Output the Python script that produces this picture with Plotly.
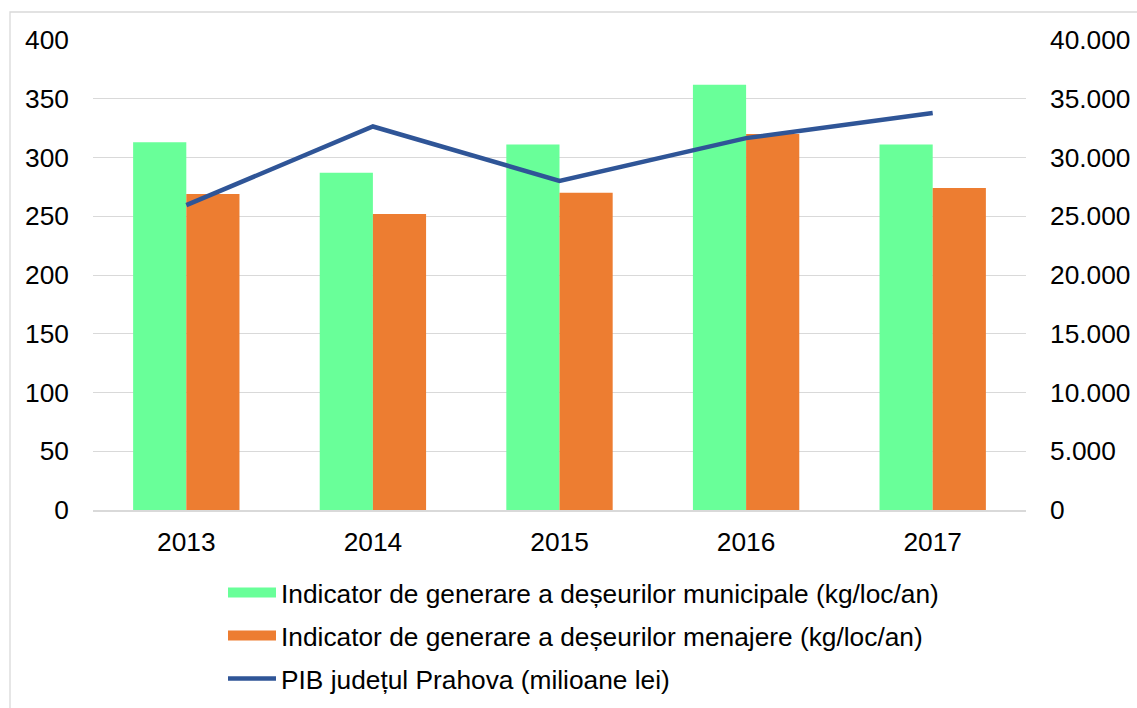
import plotly.graph_objects as go

years = ["2013", "2014", "2015", "2016", "2017"]
municipale = [313, 287, 311, 362, 311]
menajere = [269, 252, 270, 320, 274]
pib = [25950, 32640, 28010, 31650, 33780]

name_mun = "Indicator de generare a deșeurilor municipale (kg/loc/an)"
name_men = "Indicator de generare a deșeurilor menajere (kg/loc/an)"
name_pib = "PIB județul Prahova (milioane lei)"

green = "#69FF99"
orange = "#ED7D31"
blue = "#2F5597"

W, H = 1137, 708
L, R, T, B = 93, 111, 40, 198
pw = W - L - R
ph = H - T - B

def px_x(x):
    return (x - L) / pw

def px_y(y):
    return (H - B - y) / ph

font = dict(family="Liberation Sans, Arial, sans-serif", size=26.3, color="#000000")

fig = go.Figure()
fig.add_trace(go.Bar(x=years, y=municipale, name=name_mun, marker=dict(color=green, line=dict(width=0)),
                     showlegend=False))
fig.add_trace(go.Bar(x=years, y=menajere, name=name_men, marker=dict(color=orange, line=dict(width=0)),
                     showlegend=False))
fig.add_trace(go.Scatter(x=years, y=pib, name=name_pib, mode="lines", yaxis="y2",
                         line=dict(color=blue, width=4.5), showlegend=False))
# legend entries (swatches styled like the original's wide rectangles)
fig.add_trace(go.Scatter(x=[None], y=[None], name=name_mun, mode="lines",
                         line=dict(color=green, width=13), legendgroup="a", hoverinfo="skip"))
fig.add_trace(go.Scatter(x=[None], y=[None], name=name_men, mode="lines",
                         line=dict(color=orange, width=13), legendgroup="b", hoverinfo="skip"))
fig.add_trace(go.Scatter(x=[None], y=[None], name=name_pib, mode="lines", yaxis="y2",
                         line=dict(color=blue, width=4.5), legendgroup="c", hoverinfo="skip"))

fig.update_layout(
    width=W, height=H,
    margin=dict(l=L, r=R, t=T, b=B, pad=0, autoexpand=False),
    paper_bgcolor="white", plot_bgcolor="white",
    font=font,
    separators=",.",
    barmode="group", bargap=0.43, bargroupgap=0,
    xaxis=dict(type="category", showgrid=False, showline=True, linecolor="#D9D9D9", linewidth=1.5,
               ticks="", tickfont=font, ticklabelstandoff=8, automargin=False),
    yaxis=dict(range=[0, 400], dtick=50, showgrid=True, gridcolor="#D9D9D9", gridwidth=1.3,
               zeroline=False, ticks="", tickfont=font, ticklabelstandoff=23, automargin=False),
    yaxis2=dict(range=[0, 40000], dtick=5000, overlaying="y", side="right", showgrid=False,
                zeroline=False, ticks="", tickformat=",.0f", tickfont=font, ticklabelstandoff=23,
                automargin=False),
    showlegend=True,
    legend=dict(orientation="v", x=223 / W, xref="container", xanchor="left",
                y=(H - 569) / H, yref="container", yanchor="top", itemwidth=48,
                traceorder="grouped", tracegroupgap=5.8, font=font, bgcolor="rgba(0,0,0,0)"),
    shapes=[dict(type="rect", xref="paper", yref="paper",
                 x0=px_x(10), x1=px_x(1160), y0=px_y(730), y1=px_y(12),
                 line=dict(color="#D9D9D9", width=1.3), fillcolor="rgba(0,0,0,0)", layer="below")],
)

fig.write_html("out.html", config={"displayModeBar": False},
               post_script="document.body.style.margin='0';")
